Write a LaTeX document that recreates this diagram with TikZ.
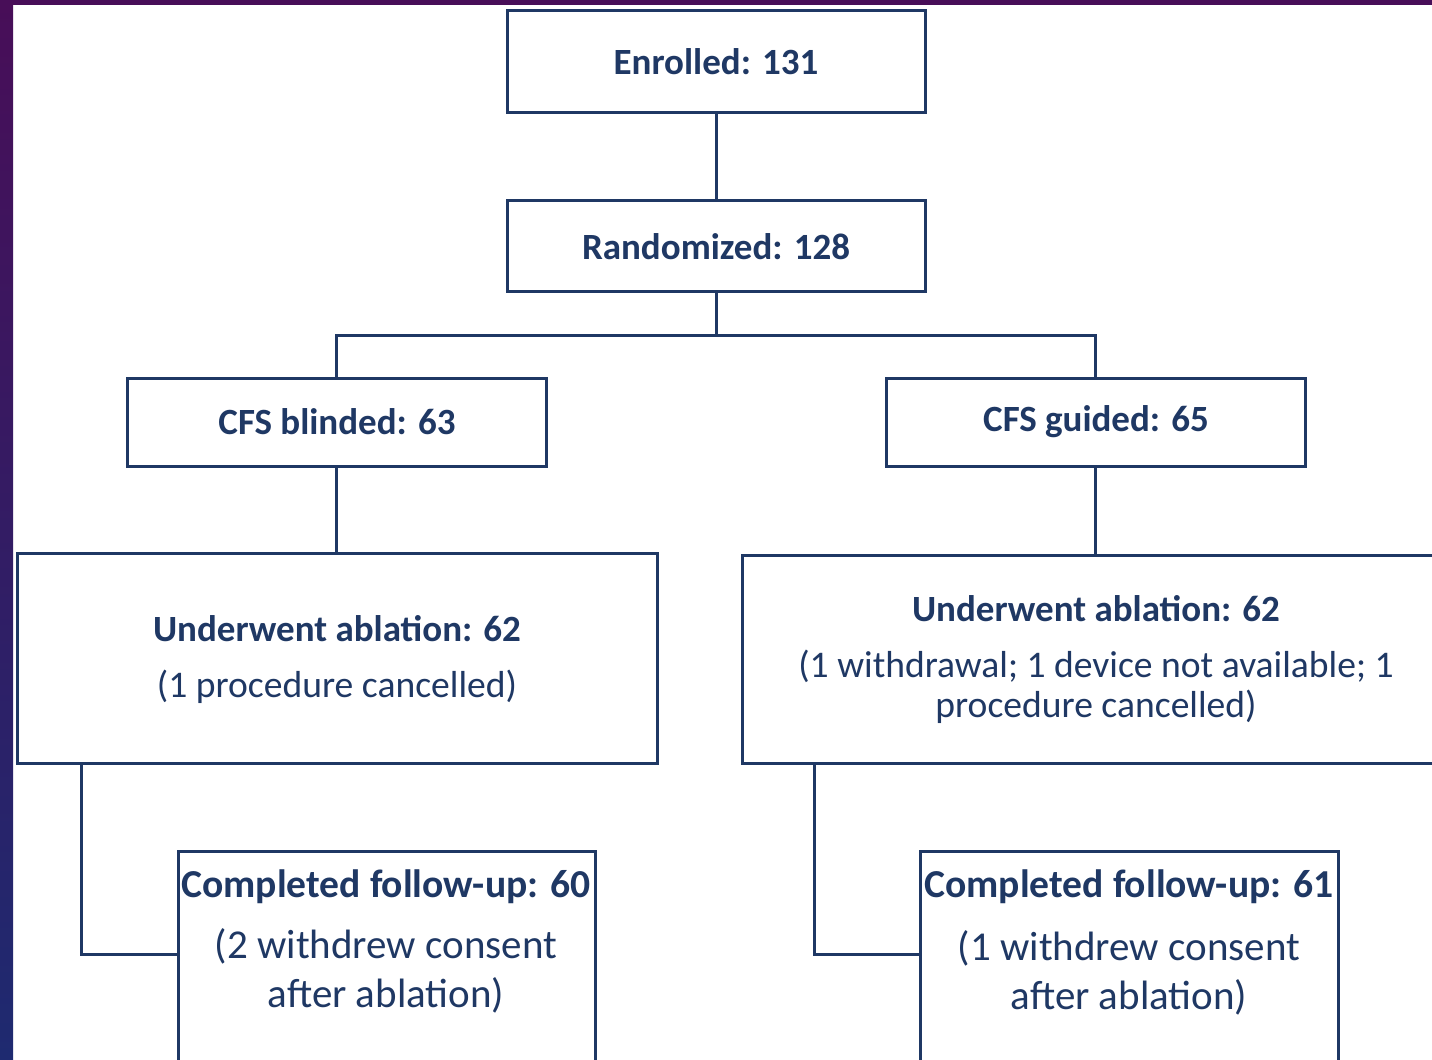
\documentclass[tikz,border=0pt]{standalone}
\usepackage{fontspec}
\setmainfont{Carlito}
\definecolor{navy}{RGB}{31,56,100}
\definecolor{bgpurple}{RGB}{72,14,88}
\definecolor{bgblue}{RGB}{30,42,112}
\begin{document}
\begin{tikzpicture}[x=0.5pt,y=-0.5pt,
  box/.style={draw=navy,line width=1.5pt,fill=white,inner sep=0pt},
  boldtxt/.style={text=navy,font=\fontsize{18.5}{22}\selectfont\bfseries,inner sep=0pt},
  regtxt/.style={text=navy,font=\fontsize{18.8}{22}\selectfont,inner sep=0pt},
  boldbig/.style={text=navy,font=\fontsize{19.8}{23}\selectfont\bfseries,inner sep=0pt},
  regbig/.style={text=navy,font=\fontsize{20.5}{24}\selectfont,inner sep=0pt},
  conn/.style={draw=navy,line width=1.5pt}]
\useasboundingbox (0,0) rectangle (1432,1060);
\fill[white] (0,0) rectangle (1432,1060);
\shade[top color=bgpurple,bottom color=bgblue] (0,0) rectangle (13,1060);
\fill[bgpurple] (0,0) rectangle (1432,5);
\begin{scope}
\clip (13,5) rectangle (1432,1060);
% boxes
\node[box,minimum width=209pt,minimum height=51pt] (enr) at (716,61) {};
\node[box,minimum width=209pt,minimum height=45.5pt] (rnd) at (716,245.5) {};
\node[box,minimum width=209.5pt,minimum height=44pt] (cfsb) at (336.5,422) {};
\node[box,minimum width=209.5pt,minimum height=44pt] (cfsg) at (1095.5,422) {};
\node[box,minimum width=320pt,minimum height=105pt] (ablL) at (337,658) {};
\node[box,minimum width=355pt,minimum height=104pt] (ablR) at (1097.5,659) {};
\node[box,minimum width=208.5pt,minimum height=120pt] (fuL) at (386.5,971) {};
\node[box,minimum width=209pt,minimum height=120pt] (fuR) at (1129,971) {};
% connectors
\draw[conn] (enr.south) -- (rnd.north);
\coordinate (split) at (716,335);
\draw[conn] (rnd.south) -- (split);
\draw[conn] (cfsb.north) |- (split) -| (cfsg.north);
\draw[conn] (cfsb.south) -- (cfsb.south |- ablL.north);
\draw[conn] (cfsg.south) -- (cfsg.south |- ablR.north);
\draw[conn] (81,763) |- (fuL.west |- 0,954);
\draw[conn] (814,763) |- (fuR.west |- 0,954);
\end{scope}
% texts
\node[boldtxt] (t1) at (716,62) {Enrolled: 131};
\node[boldtxt] (t2) at (716,247) {Randomized: 128};
\node[boldtxt] (t3) at (337,422) {CFS blinded: 63};
\node[boldtxt] (t4) at (1096,422) {CFS guided: 65};
\node[boldtxt] (t5) at (337,629) {Underwent ablation: 62};
\node[regtxt] (t6) at (337,687) {(1 procedure cancelled)};
\node[boldtxt] (t7) at (1096,609) {Underwent ablation: 62};
\node[regtxt] (t8) at (1096,666) {(1 withdrawal; 1 device not available; 1};
\node[regtxt] (t9) at (1096,707) {procedure cancelled)};
\node[boldbig] (t10) at (386,887) {Completed follow-up: 60};
\node[regbig] (t11) at (386,946) {(2 withdrew consent};
\node[regbig] (t12) at (386,995) {after ablation)};
\node[boldbig] (t13) at (1129,887) {Completed follow-up: 61};
\node[regbig] (t14) at (1129,948) {(1 withdrew consent};
\node[regbig] (t15) at (1129,997) {after ablation)};
\end{tikzpicture}
\end{document}
